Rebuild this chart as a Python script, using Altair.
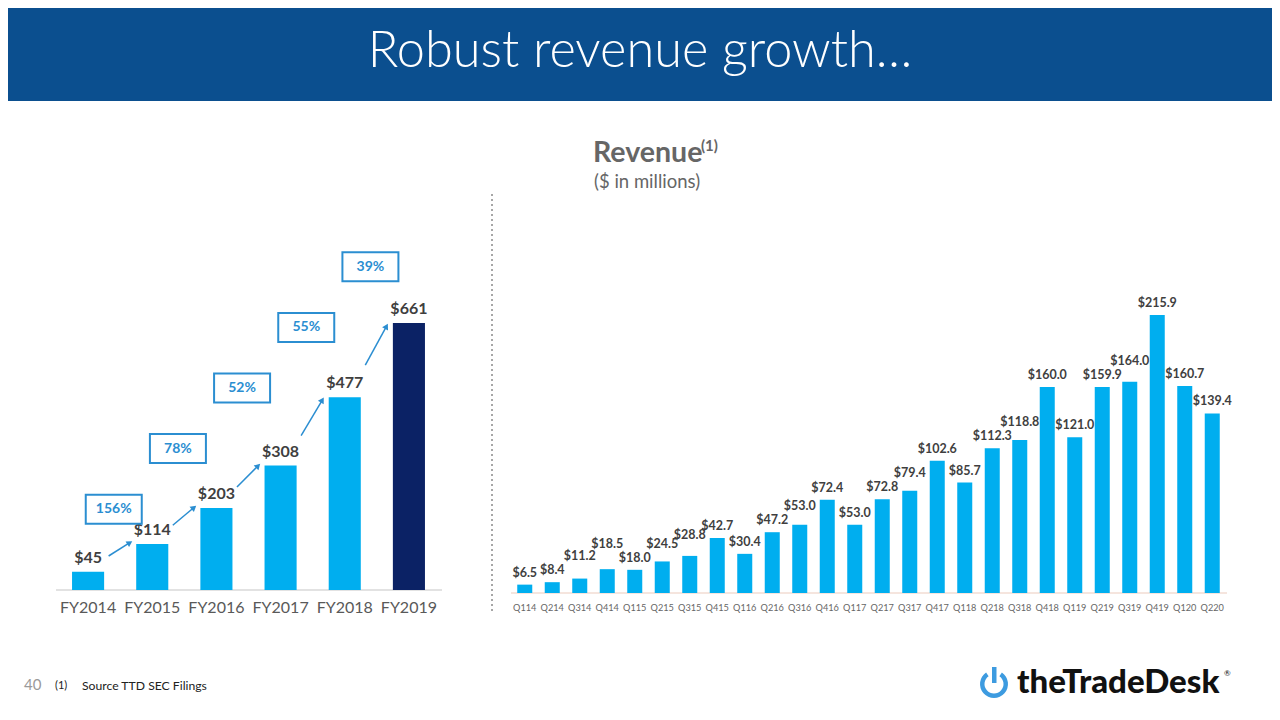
import math
import altair as alt
import pandas as pd

# ---------------- data ----------------
fy_labels = ["FY2014", "FY2015", "FY2016", "FY2017", "FY2018", "FY2019"]
fy_revenue = [45, 114, 203, 308, 477, 661]
growth_labels = ["156%", "78%", "52%", "55%", "39%"]

q_labels = ["Q114", "Q214", "Q314", "Q414", "Q115", "Q215", "Q315", "Q415",
            "Q116", "Q216", "Q316", "Q416", "Q117", "Q217", "Q317", "Q417",
            "Q118", "Q218", "Q318", "Q418", "Q119", "Q219", "Q319", "Q419",
            "Q120", "Q220"]
q_revenue = [6.5, 8.4, 11.2, 18.5, 18.0, 24.5, 28.8, 42.7,
             30.4, 47.2, 53.0, 72.4, 53.0, 72.8, 79.4, 102.6,
             85.7, 112.3, 118.8, 160.0, 121.0, 159.9, 164.0, 215.9,
             160.7, 139.4]

# ---------------- styles ----------------
FONT = "Lato"
LIGHT_BLUE = "#00aeef"
NAVY = "#0b2265"
ACCENT = "#2b8ed1"
HEADER = "#0b4f8f"
LABEL_DARK = "#3f3f3f"
LABEL_GREY = "#666666"

W, H = 1264, 704

# left chart geometry (pixels within the chart group)
L_X0, L_X1 = 48, 433
L_BASE = 582
L_YMAX = 850
L_PX_PER_UNIT = 0.404
L_TOP = L_BASE - L_YMAX * L_PX_PER_UNIT
L_STEP = (L_X1 - L_X0) / len(fy_labels)

# right chart geometry
R_X0, R_X1 = 503, 1218
R_BASE = 585
R_YMAX = 230
R_PX_PER_UNIT = 1.288
R_TOP = R_BASE - R_YMAX * R_PX_PER_UNIT
R_STEP = (R_X1 - R_X0) / len(q_labels)
R_FS = 12.5

fy_df = pd.DataFrame({"fy": fy_labels, "rev": fy_revenue,
                      "label": ["$%d" % v for v in fy_revenue]})

# quarterly value labels: lift the higher of two colliding neighbours
q_text = ["$%.1f" % v for v in q_revenue]


def text_w(s):
    return sum(0.25 * R_FS if c == "." else 0.58 * R_FS for c in s)


lift = [0.0] * len(q_revenue)
for i in range(1, len(q_revenue)):
    a, b = i - 1, i
    if (text_w(q_text[a]) + text_w(q_text[b])) / 2 <= R_STEP - 1:
        continue
    gap = abs(q_revenue[a] - q_revenue[b]) * R_PX_PER_UNIT
    if gap < 14:
        hi = a if q_revenue[a] > q_revenue[b] else b
        lift[hi] = max(lift[hi], 14 - gap)
q_df = pd.DataFrame({"q": q_labels, "rev": q_revenue, "label": q_text,
                     "label_y": [v + l / R_PX_PER_UNIT for v, l in zip(q_revenue, lift)]})

# growth annotations derived from the revenue values
rows = []
for i, g in enumerate(growth_labels):
    v0, v1 = fy_revenue[i], fy_revenue[i + 1]
    d = v1 - v0
    xs, xe = i + 0.32, i + 0.65
    ys, ye = v0 + 0.35 * d + 15, v0 + 0.9 * d + 10
    dxp = (xe - xs) * L_STEP
    dyp = (ye - ys) * L_PX_PER_UNIT
    ang = math.degrees(math.atan2(dxp, dyp))
    bx = i + 0.4
    by = 200 + 150 * i
    hw = 28 / L_STEP
    hh = 14.5 / L_PX_PER_UNIT
    rows.append(dict(g=g, xs=xs, ys=ys, xe=xe, ye=ye, ang=ang,
                     bx=bx, by=by, bx1=bx - hw, bx2=bx + hw,
                     by1=by - hh, by2=by + hh))
ann_df = pd.DataFrame(rows)

one = pd.DataFrame({"k": [0]})

# ---------------- scales ----------------
lx_band = alt.Scale(domain=fy_labels, range=[L_X0, L_X1], paddingInner=0.5, paddingOuter=0.25)
lx_lin = alt.Scale(domain=[-0.5, len(fy_labels) - 0.5], range=[L_X0, L_X1])
ly = alt.Scale(domain=[0, L_YMAX], range=[L_BASE, L_TOP])
rx_band = alt.Scale(domain=q_labels, range=[R_X0, R_X1], paddingInner=0.454, paddingOuter=0.227)
ry = alt.Scale(domain=[0, R_YMAX], range=[R_BASE, R_TOP])

# ---------------- header ----------------
header = alt.Chart(one).mark_rect(color=HEADER).encode(
    x=alt.value(0), x2=alt.value(W), y=alt.value(0), y2=alt.value(93))
title = alt.Chart(one).mark_text(
    text="Robust revenue growth\u2026", font=FONT, fontSize=50.5, fontWeight=300,
    color="white", align="center", baseline="middle").encode(
    x=alt.value(W / 2), y=alt.value(44))

sub1 = alt.Chart(one).mark_text(
    text="Revenue", font=FONT, fontSize=28.5, fontWeight="bold", color=LABEL_GREY,
    align="left", baseline="middle").encode(x=alt.value(585), y=alt.value(145))
sub1b = alt.Chart(one).mark_text(
    text="(1)", font=FONT, fontSize=15, fontWeight="bold", color=LABEL_GREY,
    align="left", baseline="middle").encode(x=alt.value(693), y=alt.value(138))
sub2 = alt.Chart(one).mark_text(
    text="($ in millions)", font=FONT, fontSize=18.5, color=LABEL_GREY,
    align="left", baseline="middle").encode(x=alt.value(586), y=alt.value(174))

sep = alt.Chart(one).mark_rule(color="#a6a6a6", strokeWidth=2, strokeDash=[2, 3]).encode(
    x=alt.value(484), y=alt.value(186), y2=alt.value(606))

# ---------------- left chart ----------------
l_base = alt.Chart(one).mark_rule(color="#d9d9d9", strokeWidth=1.5).encode(
    x=alt.value(L_X0), x2=alt.value(L_X1 + 1), y=alt.value(L_BASE))
l_bars = alt.Chart(fy_df).mark_bar().encode(
    x=alt.X("fy:N", scale=lx_band, axis=None, sort=fy_labels),
    y=alt.Y("rev:Q", scale=ly, axis=None),
    color=alt.condition(alt.datum.fy == "FY2019", alt.value(NAVY), alt.value(LIGHT_BLUE)))
l_vals = alt.Chart(fy_df).mark_text(
    font=FONT, fontSize=16, fontWeight="bold", color=LABEL_DARK,
    baseline="bottom", dy=-6).encode(
    x=alt.X("fy:N", scale=lx_band, axis=None, sort=fy_labels),
    y=alt.Y("rev:Q", scale=ly, axis=None), text="label:N")
l_ticks = alt.Chart(fy_df).mark_text(
    font=FONT, fontSize=16, color="#595959", baseline="middle").encode(
    x=alt.X("fy:N", scale=lx_band, axis=None, sort=fy_labels),
    y=alt.value(600), text="fy:N")

boxes = alt.Chart(ann_df).mark_rect(fill="white", stroke=ACCENT, strokeWidth=2).encode(
    x=alt.X("bx1:Q", scale=lx_lin, axis=None), x2="bx2:Q",
    y=alt.Y("by1:Q", scale=ly, axis=None), y2="by2:Q")
box_txt = alt.Chart(ann_df).mark_text(
    font=FONT, fontSize=14, fontWeight="bold", color=ACCENT, baseline="middle").encode(
    x=alt.X("bx:Q", scale=lx_lin, axis=None),
    y=alt.Y("by:Q", scale=ly, axis=None), text="g:N")
arrows = alt.Chart(ann_df).mark_rule(color=ACCENT, strokeWidth=1.5).encode(
    x=alt.X("xs:Q", scale=lx_lin, axis=None), x2="xe:Q",
    y=alt.Y("ys:Q", scale=ly, axis=None), y2="ye:Q")
heads = alt.Chart(ann_df).mark_point(shape="triangle-up", filled=True, size=45,
                                     color=ACCENT, opacity=1).encode(
    x=alt.X("xe:Q", scale=lx_lin, axis=None),
    y=alt.Y("ye:Q", scale=ly, axis=None),
    angle=alt.Angle("ang:Q", scale=None))

# ---------------- right chart ----------------
r_base = alt.Chart(one).mark_rule(color="#f2dcd3", strokeWidth=1.5).encode(
    x=alt.value(R_X0), x2=alt.value(R_X1 + 1), y=alt.value(R_BASE))
r_bars = alt.Chart(q_df).mark_bar(color=LIGHT_BLUE).encode(
    x=alt.X("q:N", scale=rx_band, axis=None, sort=q_labels),
    y=alt.Y("rev:Q", scale=ry, axis=None))
r_vals = alt.Chart(q_df).mark_text(
    font=FONT, fontSize=R_FS, fontWeight="bold", color=LABEL_DARK,
    baseline="bottom", dy=-5).encode(
    x=alt.X("q:N", scale=rx_band, axis=None, sort=q_labels),
    y=alt.Y("label_y:Q", scale=ry, axis=None), text="label:N")
r_ticks = alt.Chart(q_df).mark_text(
    font=FONT, fontSize=9.2, color=LABEL_GREY, baseline="middle").encode(
    x=alt.X("q:N", scale=rx_band, axis=None, sort=q_labels),
    y=alt.value(600), text="q:N")

# ---------------- footer ----------------
page_no = alt.Chart(one).mark_text(
    text="40", font=FONT, fontSize=15, color="#9a9a9a", align="left", baseline="middle").encode(
    x=alt.value(16), y=alt.value(677))
fn1 = alt.Chart(one).mark_text(
    text="(1)", font=FONT, fontSize=11, color="#222222", align="left", baseline="middle").encode(
    x=alt.value(47), y=alt.value(678))
fn2 = alt.Chart(one).mark_text(
    text="Source TTD SEC Filings", font=FONT, fontSize=12.2, color="#222222",
    align="left", baseline="middle").encode(x=alt.value(74), y=alt.value(678))

icon_ring = alt.Chart(one).mark_arc(
    theta=0.6, theta2=2 * math.pi - 0.6, radius=14, radius2=9.5, color="#3d9be0").encode(
    x=alt.value(986), y=alt.value(676))
icon_stem = alt.Chart(one).mark_rect(color="#3d9be0").encode(
    x=alt.value(984), x2=alt.value(988.5), y=alt.value(659), y2=alt.value(675))
logo = alt.Chart(one).mark_text(
    text="theTradeDesk", font=FONT, fontSize=33, fontWeight=900, color="#111111",
    align="left", baseline="middle").encode(x=alt.value(1009), y=alt.value(675))
reg = alt.Chart(one).mark_text(
    text="\u00ae", font=FONT, fontSize=8, color="#111111",
    align="left", baseline="middle").encode(x=alt.value(1216), y=alt.value(666))

chart = alt.layer(
    header, title, sub1, sub1b, sub2, sep,
    l_base, l_bars, l_vals, l_ticks, arrows, heads, boxes, box_txt,
    r_base, r_bars, r_vals, r_ticks,
    page_no, fn1, fn2, icon_ring, icon_stem, logo, reg,
).resolve_scale(
    x="independent", y="independent"
).properties(
    width=W, height=H, autosize=alt.AutoSizeParams(type="none"), padding=0,
    background="white"
).configure_view(stroke=None)

chart.save("out.html", embed_options={"renderer": "svg", "actions": False})
